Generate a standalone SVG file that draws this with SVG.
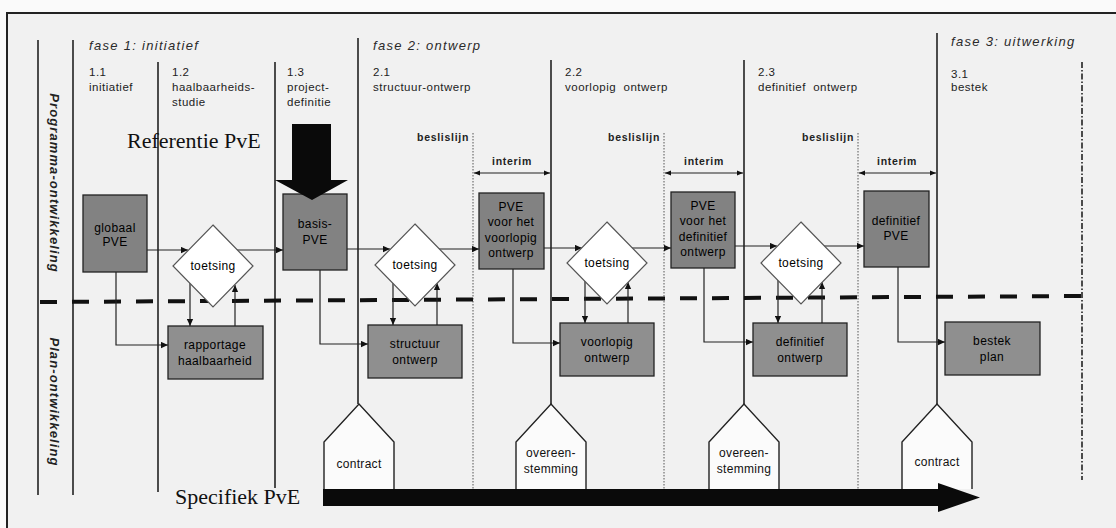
<svg xmlns="http://www.w3.org/2000/svg" width="1116" height="528" viewBox="0 0 1116 528">
<defs>
<marker id="ah" viewBox="0 0 10 10" refX="10" refY="5" markerWidth="8" markerHeight="7" markerUnits="userSpaceOnUse" orient="auto"><path d="M0,0.5 L10,5 L0,9.5 z" fill="#111"/></marker>
<marker id="ah2" viewBox="0 0 10 10" refX="10" refY="5" markerWidth="7" markerHeight="6" markerUnits="userSpaceOnUse" orient="auto-start-reverse"><path d="M0,1 L10,5 L0,9 z" fill="#111"/></marker>
<style>
.hdr{font-family:"Liberation Sans",Arial,sans-serif;font-size:11.5px;fill:#222;letter-spacing:0.5px}
.fase{font-family:"Liberation Sans",Arial,sans-serif;font-size:13px;font-style:italic;fill:#2a2a2a;letter-spacing:1.3px}
.lane{font-family:"Liberation Sans",Arial,sans-serif;font-size:13px;font-weight:bold;font-style:italic;fill:#222;letter-spacing:1.1px;text-anchor:middle}
.bx{stroke:#222;stroke-width:1.3}
.top{fill:#828282}
.bot{fill:#8f8f8f}
.bt{font-family:"Liberation Sans",Arial,sans-serif;font-size:12px;fill:#000;text-anchor:middle;letter-spacing:0.4px}
.dia{fill:#ffffff;stroke:#555;stroke-width:1.2}
.con{fill:none;stroke:#222;stroke-width:1.2}
.vl{stroke:#222;stroke-width:1.6;fill:none}
.dot{stroke:#555;stroke-width:1;stroke-dasharray:1.5 1.5;fill:none}
.bold{font-family:"Liberation Sans",Arial,sans-serif;font-size:10.5px;font-weight:bold;fill:#222;letter-spacing:0.7px}
.serif{font-family:"Liberation Serif","Times New Roman",serif;font-size:22px;fill:#111}
.pent{fill:#fbfbfb;stroke:#222;stroke-width:1.4}
.pt{font-family:"Liberation Sans",Arial,sans-serif;font-size:12px;fill:#111;text-anchor:middle;letter-spacing:0.3px}
</style>
</defs>
<rect x="0" y="0" width="1116" height="528" fill="#fafafa"/>
<rect x="7" y="13" width="1112" height="520" fill="#f1f1f1"/>
<path d="M7,528 L7,13 L1116,13" fill="none" stroke="#222" stroke-width="2"/>

<g id="lanes">
<line class="vl" x1="38" y1="40" x2="38" y2="495"/>
<line class="vl" x1="73" y1="40" x2="73" y2="495"/>
<text class="lane" transform="translate(50,183) rotate(90)">Programma-ontwikkeling</text>
<text class="lane" transform="translate(50,402) rotate(90)">Plan-ontwikkeling</text>
</g>

<g id="phase-lines">
<line class="vl" x1="158" y1="62" x2="158" y2="492"/>
<line class="vl" x1="275" y1="62" x2="275" y2="488"/>
<line class="vl" x1="358" y1="38" x2="358" y2="404"/>
<line class="vl" x1="551" y1="60" x2="551" y2="404"/>
<line class="vl" x1="744" y1="60" x2="744" y2="404"/>
<line class="vl" x1="937" y1="33" x2="937" y2="404"/>
<line class="dot" x1="473" y1="133" x2="473" y2="489"/>
<line class="dot" x1="664" y1="133" x2="664" y2="489"/>
<line class="dot" x1="858" y1="133" x2="858" y2="489"/>
<line x1="1082" y1="62" x2="1082" y2="480" stroke="#222" stroke-width="1.6" stroke-dasharray="6 2 1.5 2"/>
<line x1="40" y1="302" x2="1083" y2="296" stroke="#111" stroke-width="4" stroke-dasharray="17 15"/>
</g>

<g id="headers">
<text class="fase" x="89" y="50">fase 1:  initiatief</text>
<text class="fase" x="373" y="50">fase 2:  ontwerp</text>
<text class="fase" x="951" y="46">fase 3:  uitwerking</text>
<text class="hdr" x="89" y="76">1.1</text><text class="hdr" x="89" y="91">initiatief</text>
<text class="hdr" x="172" y="76">1.2</text><text class="hdr" x="172" y="91">haalbaarheids-</text><text class="hdr" x="172" y="106">studie</text>
<text class="hdr" x="287" y="76">1.3</text><text class="hdr" x="287" y="91">project-</text><text class="hdr" x="287" y="106">definitie</text>
<text class="hdr" x="373" y="76">2.1</text><text class="hdr" x="373" y="91">structuur-ontwerp</text>
<text class="hdr" x="565" y="76">2.2</text><text class="hdr" x="565" y="91" xml:space="preserve">voorlopig  ontwerp</text>
<text class="hdr" x="758" y="76">2.3</text><text class="hdr" x="758" y="91" xml:space="preserve">definitief  ontwerp</text>
<text class="hdr" x="951" y="78">3.1</text><text class="hdr" x="951" y="91">bestek</text>
</g>

<g id="beslislijn">
<text class="bold" x="469" y="141" text-anchor="end">beslislijn</text>
<text class="bold" x="660" y="141" text-anchor="end">beslislijn</text>
<text class="bold" x="854" y="141" text-anchor="end">beslislijn</text>
<text class="bold" x="512" y="165" text-anchor="middle">interim</text>
<text class="bold" x="704" y="165" text-anchor="middle">interim</text>
<text class="bold" x="897" y="165" text-anchor="middle">interim</text>
<line class="con" x1="474" y1="173" x2="550" y2="173" marker-start="url(#ah2)" marker-end="url(#ah2)"/>
<line class="con" x1="665" y1="173" x2="743" y2="173" marker-start="url(#ah2)" marker-end="url(#ah2)"/>
<line class="con" x1="859" y1="173" x2="936" y2="173" marker-start="url(#ah2)" marker-end="url(#ah2)"/>
</g>

<g id="connectors">
<line class="con" x1="147" y1="250" x2="188" y2="250" marker-end="url(#ah)"/>
<line class="con" x1="237" y1="250" x2="283" y2="250" marker-end="url(#ah)"/>
<line class="con" x1="347" y1="249" x2="390" y2="249" marker-end="url(#ah)"/>
<line class="con" x1="439" y1="249" x2="479" y2="249" marker-end="url(#ah)"/>
<line class="con" x1="544" y1="248" x2="582" y2="248" marker-end="url(#ah)"/>
<line class="con" x1="632" y1="248" x2="671" y2="248" marker-end="url(#ah)"/>
<line class="con" x1="735" y1="246" x2="777" y2="246" marker-end="url(#ah)"/>
<line class="con" x1="824" y1="246" x2="864" y2="246" marker-end="url(#ah)"/>
<path class="con" d="M116,272 V345 H168" marker-end="url(#ah)"/>
<path class="con" d="M320,270 V344 H368" marker-end="url(#ah)"/>
<path class="con" d="M513,269 V343 H560" marker-end="url(#ah)"/>
<path class="con" d="M704,268 V342 H753" marker-end="url(#ah)"/>
<path class="con" d="M898,267 V342 H945" marker-end="url(#ah)"/>
<line class="con" x1="190" y1="283" x2="190" y2="326" marker-end="url(#ah)"/>
<line class="con" x1="235" y1="326" x2="235" y2="285" marker-end="url(#ah)"/>
<line class="con" x1="393" y1="283" x2="393" y2="325" marker-end="url(#ah)"/>
<line class="con" x1="437" y1="325" x2="437" y2="283" marker-end="url(#ah)"/>
<line class="con" x1="585" y1="281" x2="585" y2="323" marker-end="url(#ah)"/>
<line class="con" x1="628" y1="323" x2="628" y2="282" marker-end="url(#ah)"/>
<line class="con" x1="778" y1="280" x2="778" y2="323" marker-end="url(#ah)"/>
<line class="con" x1="822" y1="323" x2="822" y2="282" marker-end="url(#ah)"/>
</g>

<g id="globaal-pve"><rect class="bx top" x="83" y="195" width="64" height="77"/><text class="bt" x="115" y="232">globaal</text><text class="bt" x="115" y="246">PVE</text></g>
<g id="basis-pve"><rect class="bx top" x="283" y="194" width="64" height="76"/><text class="bt" x="315" y="228">basis-</text><text class="bt" x="315" y="244">PVE</text></g>
<g id="pve-voorlopig"><rect class="bx top" x="479" y="193" width="65" height="76"/><text class="bt" x="511" y="211">PVE</text><text class="bt" x="511" y="226">voor het</text><text class="bt" x="511" y="242">voorlopig</text><text class="bt" x="511" y="257">ontwerp</text></g>
<g id="pve-definitief"><rect class="bx top" x="671" y="192" width="64" height="76"/><text class="bt" x="703" y="210">PVE</text><text class="bt" x="703" y="225">voor het</text><text class="bt" x="703" y="241">definitief</text><text class="bt" x="703" y="256">ontwerp</text></g>
<g id="definitief-pve"><rect class="bx top" x="864" y="191" width="65" height="76"/><text class="bt" x="896" y="225">definitief</text><text class="bt" x="896" y="240">PVE</text></g>

<g id="toetsing-1"><path class="dia" d="M213,225 L253,266 L213,307 L173,266 z"/><text class="bt" x="213" y="270">toetsing</text></g>
<g id="toetsing-2"><path class="dia" d="M415,224 L455,265 L415,306 L375,265 z"/><text class="bt" x="415" y="269">toetsing</text></g>
<g id="toetsing-3"><path class="dia" d="M607,222 L647,263 L607,304 L567,263 z"/><text class="bt" x="607" y="267">toetsing</text></g>
<g id="toetsing-4"><path class="dia" d="M801,222 L841,263 L801,304 L761,263 z"/><text class="bt" x="801" y="267">toetsing</text></g>

<g id="rapportage"><rect class="bx bot" x="168" y="326" width="95" height="53"/><text class="bt" x="215" y="349">rapportage</text><text class="bt" x="215" y="365">haalbaarheid</text></g>
<g id="structuur-ontwerp"><rect class="bx bot" x="368" y="325" width="94" height="53"/><text class="bt" x="415" y="348">structuur</text><text class="bt" x="415" y="364">ontwerp</text></g>
<g id="voorlopig-ontwerp"><rect class="bx bot" x="560" y="323" width="94" height="53"/><text class="bt" x="607" y="346">voorlopig</text><text class="bt" x="607" y="362">ontwerp</text></g>
<g id="definitief-ontwerp"><rect class="bx bot" x="753" y="323" width="94" height="53"/><text class="bt" x="800" y="346">definitief</text><text class="bt" x="800" y="362">ontwerp</text></g>
<g id="bestek-plan"><rect class="bx bot" x="945" y="322" width="95" height="53"/><text class="bt" x="992" y="345">bestek</text><text class="bt" x="992" y="361">plan</text></g>

<g id="referentie-pve">
<text class="serif" x="127" y="148">Referentie PvE</text>
<path d="M292,124 H331 V180 H348 L312,200 L275,180 H292 z" fill="#0a0a0a"/>
</g>

<g id="pentagons">
<path class="pent" d="M324,489 V442 L359,404 L394,442 V489"/>
<text class="pt" x="359" y="468">contract</text>
<path class="pent" d="M516,489 V442 L551,404 L586,442 V489"/>
<text class="pt" x="551" y="457">overeen-</text><text class="pt" x="551" y="473">stemming</text>
<path class="pent" d="M709,489 V442 L744,404 L779,442 V489"/>
<text class="pt" x="744" y="457">overeen-</text><text class="pt" x="744" y="473">stemming</text>
<path class="pent" d="M902,489 V442 L937,404 L972,442 V489"/>
<text class="pt" x="937" y="466">contract</text>
</g>

<g id="specifiek-pve">
<text class="serif" x="175" y="504">Specifiek PvE</text>
<path d="M323,489 H938 V483 L980,497.5 L938,512 V506 H323 z" fill="#0a0a0a"/>
</g>
</svg>
